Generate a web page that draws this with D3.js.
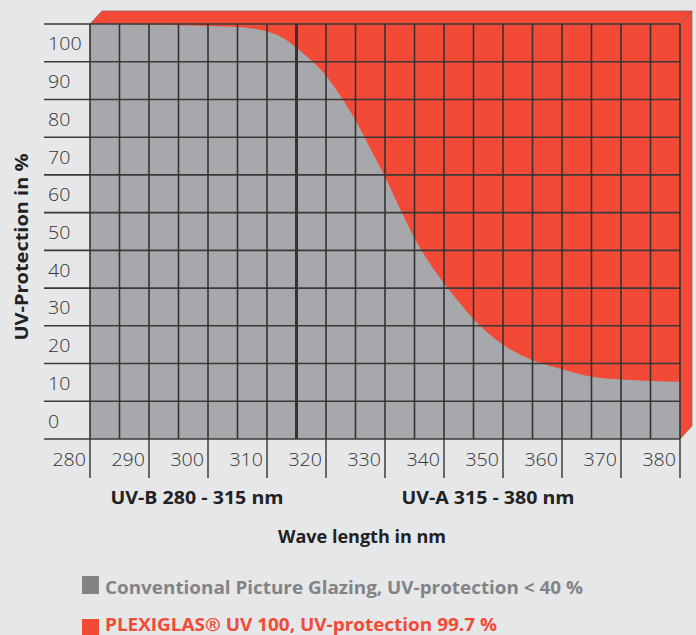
<!DOCTYPE html>
<html><head><meta charset="utf-8">
<script src="https://cdn.jsdelivr.net/npm/d3@7"></script>
<style>
html,body{margin:0;padding:0;background:#e6e7e9;}
svg{display:block;font-family:"Open Sans",Lato,sans-serif;}
</style></head>
<body><svg id="c" width="696" height="635"></svg>
<script>
// Data
const wavelengths = [280,290,295,300,305,310,312.5,315,317.5,320,322.5,325,327.5,330,332.5,335,337.5,340,342.5,345,347.5,350,355,360,365,370,375,380];
const conventional = [100,99.9,99.7,99.5,99.2,98,96.5,93.7,90.3,86.3,80.8,74.5,67,59.5,51.2,43.2,36.8,31.3,26.4,21.8,18,15,10.9,8.5,6.5,5.8,5.4,5.2];
const plexiWavelengths = [280,380];
const plexiglas = [100,100];
const xTicks = [280,290,300,310,320,330,340,350,360,370,380];
const yTicks = [0,10,20,30,40,50,60,70,80,90,100];
const legendLabels = ["Conventional Picture Glazing, UV-protection < 40 %","PLEXIGLAS\u00AE UV 100, UV-protection 99.7 %"];
const colors = {grey:"#a7a8ab", red:"#f24a37", greyText:"#838386", legendGrey:"#838386", ink:"#222"};

(function(){
const svg = d3.select("#c");
const x = d3.scaleLinear().domain([280,380]).range([90,680]);
const y = d3.scaleLinear().domain([-10,100]).range([439,24]);
const dx = 12, dy = 13;

const yTop = y(100), yBot = y(-10), L = x(280), R = x(380);
svg.append("polygon")
  .attr("points", [[L,yTop],[L+dx,yTop-dy],[R+dx,yTop-dy],[R,yTop]].map(p=>p.join(",")).join(" "))
  .attr("fill", colors.red).attr("stroke","#8a5a55").attr("stroke-width",0.8);
svg.append("polygon")
  .attr("points", [[R,yTop],[R+dx,yTop-dy],[R+dx,yBot-dy],[R,yBot]].map(p=>p.join(",")).join(" "))
  .attr("fill", colors.red).attr("stroke","#8a4a40").attr("stroke-width",0.6);

const plexiData = plexiWavelengths.map((w,i)=>({w, v:plexiglas[i]}));
svg.append("path").datum(plexiData)
  .attr("fill", colors.red)
  .attr("d", d3.area().x(d=>x(d.w)).y0(y(-10)).y1(d=>y(d.v)));

const convData = wavelengths.map((w,i)=>({w, v:conventional[i]}));
svg.append("path").datum(convData)
  .attr("fill", colors.grey)
  .attr("d", d3.area().curve(d3.curveMonotoneX).x(d=>x(d.w)).y0(y(-10)).y1(d=>y(d.v)));

const hLines = d3.range(-10,101,10);
svg.append("g").selectAll("line").data(hLines).join("line")
  .attr("x1",44).attr("x2",R).attr("y1",d=>y(d)).attr("y2",d=>y(d))
  .attr("stroke","#3a3a3a").attr("stroke-width",1.6);
const vLines = d3.range(280,381,5);
svg.append("g").selectAll("line").data(vLines).join("line")
  .attr("x1",d=>x(d)).attr("x2",d=>x(d)).attr("y1",yTop).attr("y2",yBot)
  .attr("stroke","#333").attr("stroke-width",d=>d===315?3:1.6);
svg.append("g").selectAll("line").data(xTicks).join("line")
  .attr("x1",d=>x(d)).attr("x2",d=>x(d)).attr("y1",yBot).attr("y2",478)
  .attr("stroke","#333").attr("stroke-width",1.4);

const numLen = d => String(d).length * 11.2;
svg.append("g").selectAll("text").data(xTicks).join("text")
  .attr("x",d=>x(d)-4).attr("y",466).attr("text-anchor","end")
  .attr("font-size",19).attr("font-weight",300).attr("fill","#333")
  .attr("textLength",numLen).attr("lengthAdjust","spacingAndGlyphs").text(d=>d);
svg.append("g").selectAll("text").data(yTicks).join("text")
  .attr("x",48).attr("y",d=>y(d-5)+7.5).attr("font-size",19).attr("font-weight",300).attr("fill","#333")
  .attr("textLength",numLen).attr("lengthAdjust","spacingAndGlyphs").text(d=>d);

function bold(sel, size, len){
  return sel.attr("font-size",size).attr("font-weight",700).attr("fill",colors.ink)
    .attr("textLength",len).attr("lengthAdjust","spacingAndGlyphs");
}
bold(svg.append("text").attr("transform","translate(28,247) rotate(-90)").attr("text-anchor","middle"),17.5,187)
  .text("UV-Protection in %");
bold(svg.append("text").attr("x",110.5).attr("y",504),17.5,173).text("UV-B 280 - 315 nm");
bold(svg.append("text").attr("x",401.5).attr("y",504),17.5,173).text("UV-A 315 - 380 nm");
bold(svg.append("text").attr("x",362).attr("y",543).attr("text-anchor","middle"),17.5,168).text("Wave length in nm");

const legColors = [colors.legendGrey, colors.red];
const legText = [colors.greyText, colors.red];
const legLen = [478, 392];
const legBase = [18, 11.5];
const legSize = [18, 17.5];
const lg = svg.append("g").selectAll("g").data(legendLabels).join("g")
  .attr("transform",(d,i)=>`translate(82,${576+i*43})`);
lg.append("rect").attr("width",17).attr("height",18).attr("fill",(d,i)=>legColors[i]);
lg.append("text").attr("x",23).attr("y",(d,i)=>legBase[i]).attr("font-size",(d,i)=>legSize[i]).attr("font-weight",700)
  .attr("fill",(d,i)=>legText[i])
  .attr("textLength",(d,i)=>legLen[i]).attr("lengthAdjust","spacingAndGlyphs").text(d=>d);
})();
</script></body></html>
